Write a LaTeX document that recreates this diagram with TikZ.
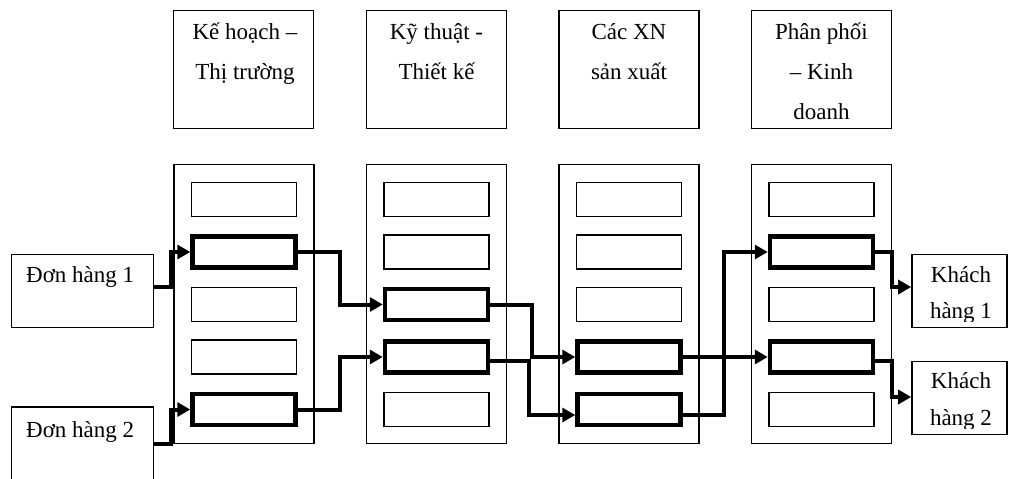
\documentclass[tikz,border=0pt]{standalone}
\usepackage{fontspec}
\setmainfont{Liberation Serif}
\usetikzlibrary{arrows.meta}
\begin{document}
\begin{tikzpicture}[x=1pt,y=-1pt,
  txt/.style={inner sep=0pt, font=\fontsize{23}{40}\selectfont},
  txtk/.style={inner sep=0pt, font=\fontsize{23}{36.5}\selectfont},
  hdr/.style={draw, line width=1.7pt, inner sep=0pt, minimum width=140pt, minimum height=118pt},
  col/.style={draw, line width=1.5pt, inner sep=0pt, minimum width=140pt, minimum height=279pt},
  cell/.style={draw, line width=1.8pt, inner sep=0pt, minimum width=105pt, minimum height=34pt},
  hot/.style={draw, line width=4.5pt, inner sep=0pt, minimum width=103pt, minimum height=31pt},
  endbox/.style={draw, line width=1.6pt, inner sep=0pt},
  flow/.style={line width=4pt, -{Triangle[length=13pt,width=14pt]}}
]
\useasboundingbox (0,0) rectangle (1009,479);
\clip (0,0) rectangle (1009,479);

% header boxes
\node[hdr] (h1) at (243.5,69.5) {};
\node[hdr] (h2) at (436.5,69.5) {};
\node[hdr] (h3) at (629,69.5) {};
\node[hdr] (h4) at (821.5,69.5) {};
\node[txt, align=center, anchor=base] (t1) at (245,79) {Kế hoạch –\\Thị trường};
\node[txt, align=center, anchor=base] (t2) at (436.5,79) {Kỹ thuật -\\Thiết kế};
\node[txt, align=center, anchor=base] (t3) at (629,79) {Các XN\\sản xuất};
\node[txt, align=center, anchor=base] (t4) at (821.5,119) {Phân phối\\– Kinh\\doanh};

% columns
\node[col] (col1) at (244,304) {};
\node[col] (col2) at (436.5,304) {};
\node[col] (col3) at (629,304) {};
\node[col] (col4) at (821.5,304) {};

% column 1 cells
\node[cell] (c1r1) at (244,199.5) {};
\node[hot]  (c1r2) at (244,252) {};
\node[cell] (c1r3) at (244,304.5) {};
\node[cell] (c1r4) at (244,357) {};
\node[hot]  (c1r5) at (244,409.5) {};
% column 2 cells
\node[cell] (c2r1) at (436.5,199.5) {};
\node[cell] (c2r2) at (436.5,252) {};
\node[hot]  (c2r3) at (436.5,304.5) {};
\node[hot]  (c2r4) at (436.5,357) {};
\node[cell] (c2r5) at (436.5,409.5) {};
% column 3 cells
\node[cell] (c3r1) at (629,199.5) {};
\node[cell] (c3r2) at (629,252) {};
\node[cell] (c3r3) at (629,304.5) {};
\node[hot]  (c3r4) at (629,357) {};
\node[hot]  (c3r5) at (629,409.5) {};
% column 4 cells
\node[cell] (c4r1) at (821.5,199.5) {};
\node[hot]  (c4r2) at (821.5,252) {};
\node[cell] (c4r3) at (821.5,304.5) {};
\node[hot]  (c4r4) at (821.5,357) {};
\node[cell] (c4r5) at (821.5,409.5) {};

% orders
\node[endbox, minimum width=142pt, minimum height=73pt] (don1) at (82.5,291) {};
\node[txt, anchor=base west] (don1t) at (26,282) {Đơn hàng 1};
\node[endbox, minimum width=142pt, minimum height=80pt] (don2) at (82.5,447) {};
\node[txt, anchor=base west] (don2t) at (26,437) {Đơn hàng 2};

% customers
\node[endbox, minimum width=95pt, minimum height=73pt] (kh1) at (959.5,291) {};
\node[endbox, minimum width=95pt, minimum height=73pt] (kh2) at (959.5,398) {};
\begin{scope}
\clip (912,254) rectangle (1008,321);
\node[txtk, align=center, anchor=base] (kh1t) at (961,318.5) {Khách\\hàng 1};
\end{scope}
\begin{scope}
\clip (912,361) rectangle (1008,428);
\node[txtk, align=center, anchor=base] (kh2t) at (961,425) {Khách\\hàng 2};
\end{scope}

% flows
\draw[flow] ([yshift=4pt]don1.east) -- ++(17,0) |- (c1r2.west);
\draw[flow] ([yshift=3pt]don2.east) -- ++(17,0) |- (c1r5.west);
\draw[flow] (c1r2.east) -- ++(42,0) |- (c2r3.west);
\draw[flow] (c1r5.east) -- ++(42,0) |- (c2r4.west);
\draw[flow] (c2r3.east) -- ++(42,0) |- (c3r4.west);
\draw[flow] ([yshift=-4pt]c2r4.east) -- ++(39,0) |- ([yshift=-5.5pt]c3r5.west);
\draw[flow] (c3r4.east) -- (c4r4.west);
\draw[flow] ([yshift=-5.5pt]c3r5.east) -- ++(41,0) |- (c4r2.west);
\draw[flow] (c4r2.east) -- ++(17,0) |- ([yshift=4pt]kh1.west);
\draw[flow] ([yshift=-4pt]c4r4.east) -- ++(17,0) |- ([yshift=1pt]kh2.west);
\end{tikzpicture}
\end{document}
